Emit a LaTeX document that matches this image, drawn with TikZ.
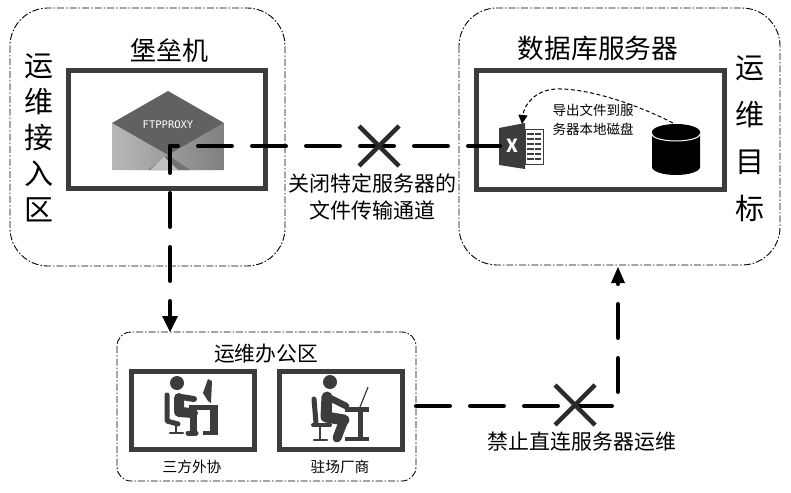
\documentclass[tikz,border=0pt]{standalone}
\usepackage{fontspec}
\setmainfont{Noto Sans CJK SC}
\newfontfamily\monof{DejaVu Sans Mono}
\usetikzlibrary{arrows.meta}
\definecolor{dk}{HTML}{3C3C3C}
\tikzset{
 x=1pt,y=-1pt,
 zone/.style={draw=black,line width=0.9pt,dash pattern=on 7pt off 2pt on 1.5pt off 2pt,rounded corners=#1},
 panel/.style={draw=dk,line width=#1,fill=white},
 flow/.style={line width=4pt,line cap=round,black},
 cross/.style={line width=4.5pt,draw=dk!70!black},
 lab/.style={inner sep=0pt,align=center},
 limb/.style={draw=dk,line cap=round,line join=round},
}
\begin{document}
\begin{tikzpicture}
\useasboundingbox (0,0) rectangle (791,492);
% zones
\draw[zone=38pt] (10,8) rectangle (285,266);
\draw[zone=38pt] (459,8) rectangle (780,265);
\draw[zone=14pt] (117,332) rectangle (416,481);
% panels
\draw[panel=5pt] (68,71) rectangle (265,188);
\draw[panel=5pt] (476,71) rectangle (724,189);
\draw[panel=5pt] (131,371) rectangle (254,449);
\draw[panel=5pt] (279,371) rectangle (402,449);
% titles
\node[lab,font=\fontsize{26}{26}\selectfont] (t1) at (169,51) {堡垒机};
\node[lab,font=\fontsize{26.7}{26.7}\selectfont] (t2) at (598,48) {数据库服务器};
\node[lab,font=\fontsize{29}{36}\selectfont] (t3) at (39,138) {运\\维\\接\\入\\区};
\node[lab,font=\fontsize{29}{47}\selectfont] (t4) at (750,139) {运\\维\\目\\标};
\node[lab,font=\fontsize{20.8}{20.8}\selectfont] (t5) at (266,354) {运维办公区};
\node[lab,font=\fontsize{14.7}{14.7}\selectfont] (t6) at (192,467) {三方外协};
\node[lab,font=\fontsize{14.7}{14.7}\selectfont] (t7) at (340,467) {驻场厂商};
\node[lab,font=\fontsize{21}{27}\selectfont] (t8) at (372,197) {关闭特定服务器的\\文件传输通道};
\node[lab,font=\fontsize{20.9}{20.9}\selectfont] (t9) at (582,442) {禁止直连服务器运维};
\node[lab,font=\fontsize{13.5}{19}\selectfont] (t10) at (593,120) {导出文件到服\\务器本地磁盘};
% envelope
\shade[left color=black!28,right color=black!50] (112,123) -- (168,155) -- (224,123) -- (224,170) -- (112,170) -- cycle;
\fill[black!55] (168,155) -- (190,170) -- (148,170) -- cycle;
\fill[black!25] (150,170) -- (164,157) -- (178,170) -- cycle;
\fill[black!62] (112,123) -- (168,91) -- (224,123) -- (168,155) -- cycle;
\node[lab,text=white,font=\monof\fontsize{10.5}{10.5}\selectfont] (ftp) at (168,125) {FTPPROXY};
% excel
\fill[white,draw=dk,line width=.7pt] (525,129) rectangle (543,164);
\foreach \yy in {134,139,144,149,154,159}{\draw[dk,line width=1.6pt] (527,\yy) -- (541,\yy);}
\draw[white,line width=1pt] (534,130) -- (534,163);
\fill[dk] (499,128) -- (525,123) -- (525,169) -- (499,165) -- cycle;
\node[lab,text=white,font=\fontsize{18}{18}\selectfont\bfseries] (xl) at (512,146) {X};
\coordinate (xlw) at (500,146);
% database
\fill[black] (652,132) -- (652,167) arc[start angle=180,end angle=0,x radius=24,y radius=8] -- (700,132) arc[start angle=0,end angle=-180,x radius=24,y radius=8] -- cycle;
\draw[white,line width=1pt] (652,134) arc[start angle=180,end angle=0,x radius=24,y radius=7];
\coordinate (dbt) at (673,123);
% curved dashed export
\coordinate (xlt) at (522,124);
\draw[line width=1pt,dash pattern=on 4pt off 2.5pt,-{Triangle[length=9pt,width=9pt]}] (dbt) .. controls (640,106) and (590,88) .. (556,89) .. controls (535,90) and (524,105) .. (xlt);
% person left
\fill[dk] (177,383) circle (7);
\draw[limb,line width=10pt] (179,398) -- (179,412) -- (193,413);
\draw[limb,line width=7pt] (193,413) -- (193,431);
\draw[limb,line width=6pt] (181,397) -- (194,399);
\draw[limb,line width=5pt] (188,433) -- (196,433);
\draw[limb,line width=5pt] (167,395) -- (167,421) -- (178,424);
\draw[limb,line width=2.5pt] (176,424) -- (176,432) (170,433) -- (183,433);
\fill[dk] (189,405) rectangle (218,410);
\fill[dk] (210,405) rectangle (218,434);
\fill[dk] (203,431) rectangle (218,435);
\fill[dk] (208,379) -- (212,381) -- (211,403) -- (208,401) -- (203,393) -- cycle;
% person right
\fill[dk] (330,382) circle (7);
\draw[limb,line width=11pt] (327,397) -- (326,417) -- (344,420);
\draw[limb,line width=9pt] (344,420) -- (337,438);
\draw[limb,line width=6.5pt] (330,398) -- (346,406);
\draw[limb,line width=5pt] (314,399) -- (316,423);
\draw[dk,line width=4pt,line cap=round] (313,425) -- (330,425);
\draw[limb,line width=2.5pt] (320,426) -- (320,439) (314,440) -- (327,440);
\draw[dk,line width=1.2pt] (360,407) -- (368,387);
\fill[dk] (345,407) rectangle (369,412);
\fill[dk] (358,412) rectangle (363,438);
\fill[dk] (345,437) rectangle (369,441);
% flows
\coordinate (hub) at (170,146);
\coordinate (zb) at (170,332);
\coordinate (ze) at (416,406);
\coordinate (bend) at (618,406);
\coordinate (ztop) at (618,267);
\draw[flow,dash pattern=on 34pt off 20pt,dash phase=26pt] (hub) -- (xlw);
\draw[flow,dash pattern=on 34pt off 20pt,dash phase=7pt] (hub) -- (170,316);
\fill[black] (162,316) -- (178,316) -- (zb) -- cycle;
\draw[flow,dash pattern=on 34pt off 20pt] (ze) -- (bend) -- (618,284);
\fill[black] (611,283) -- (625,283) -- (ztop) -- cycle;
% crosses
\node[inner sep=0pt,minimum size=0pt] (c1) at (379,146) {};
\node[inner sep=0pt,minimum size=0pt] (c2) at (575,405) {};
\draw[cross] (359,126) -- (399,166) (399,126) -- (359,166);
\draw[cross] (555,385) -- (595,425) (595,385) -- (555,425);
\end{tikzpicture}
\end{document}
